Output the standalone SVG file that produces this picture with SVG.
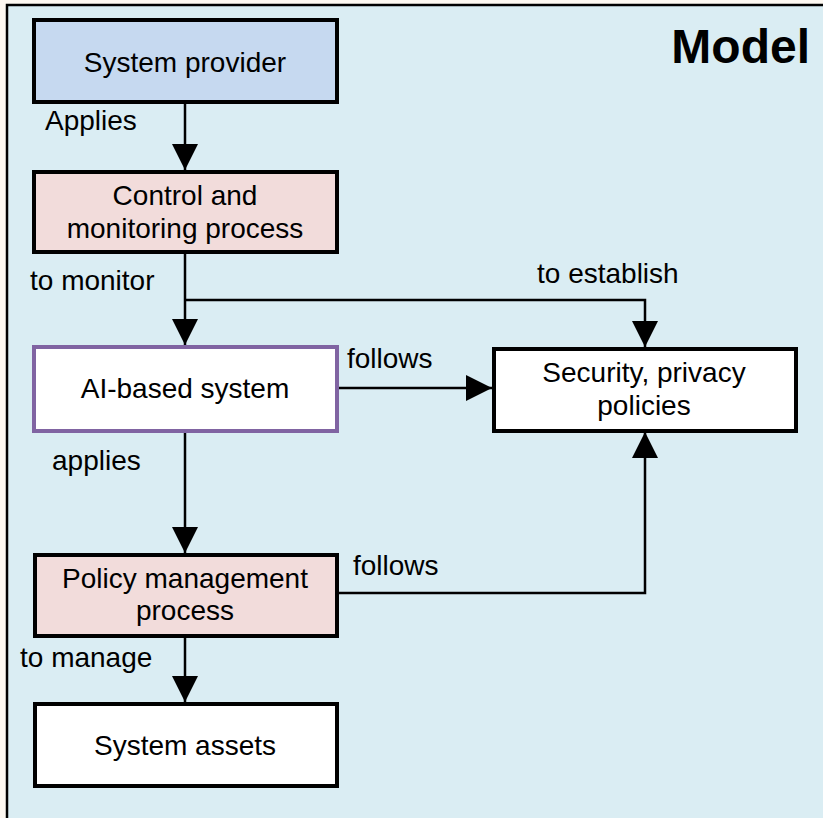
<svg xmlns="http://www.w3.org/2000/svg" width="823" height="818" viewBox="0 0 823 818">
  <style>
    .node { stroke: #000; stroke-width: 4; }
    .lbl { font-family: "Liberation Sans", Arial, sans-serif; font-size: 28px; fill: #000; }
    .mid { text-anchor: middle; }
    .edge { fill: none; stroke: #000; stroke-width: 2.5; }
  </style>
  <defs>
    <marker id="arrow" viewBox="0 0 26 26" refX="26" refY="13" markerWidth="26" markerHeight="26" markerUnits="userSpaceOnUse" orient="auto">
      <path d="M0,0 L26,13 L0,26 z" fill="#000"/>
    </marker>
  </defs>

  <!-- page and model frame -->
  <rect x="0" y="0" width="823" height="818" fill="#fdf8f1"/>
  <rect x="7" y="5" width="840" height="840" fill="#daedf3" stroke="#000" stroke-width="2.5"/>
  <text x="810" y="63" text-anchor="end" style="font-family: 'Liberation Sans', Arial, sans-serif; font-size: 48px; font-weight: bold;">Model</text>

  <!-- connectors -->
  <g id="connectors">
    <line class="edge" x1="185" y1="103" x2="185" y2="170" marker-end="url(#arrow)"/>
    <line class="edge" x1="185" y1="253" x2="185" y2="345" marker-end="url(#arrow)"/>
    <polyline class="edge" points="185,300 645,300 645,347" marker-end="url(#arrow)"/>
    <line class="edge" x1="339" y1="388" x2="492" y2="388" marker-end="url(#arrow)"/>
    <line class="edge" x1="185" y1="433" x2="185" y2="553" marker-end="url(#arrow)"/>
    <polyline class="edge" points="338,593 645,593 645,432" marker-end="url(#arrow)"/>
    <line class="edge" x1="185" y1="637" x2="185" y2="702" marker-end="url(#arrow)"/>
    <text class="lbl" x="45" y="130">Applies</text>
    <text class="lbl" x="30" y="290">to monitor</text>
    <text class="lbl" x="537" y="283">to establish</text>
    <text class="lbl" x="347" y="368">follows</text>
    <text class="lbl" x="52" y="470">applies</text>
    <text class="lbl" x="353" y="575">follows</text>
    <text class="lbl" x="20" y="667">to manage</text>
  </g>

  <g id="system-provider">
    <rect class="node" x="34" y="20" width="303" height="82" fill="#c6d9f0"/>
    <text class="lbl mid" x="185" y="72">System provider</text>
  </g>

  <g id="control-monitoring">
    <rect class="node" x="34" y="172" width="303" height="80" fill="#f2dcdb"/>
    <text class="lbl mid" x="185" y="205">Control and</text>
    <text class="lbl mid" x="185" y="238">monitoring process</text>
  </g>

  <g id="ai-system">
    <rect x="34" y="347" width="303" height="84" fill="#ffffff" stroke="#8064a2" stroke-width="4"/>
    <text class="lbl mid" x="185" y="398">AI-based system</text>
  </g>

  <g id="security-policies">
    <rect class="node" x="494" y="349" width="302" height="82" fill="#ffffff"/>
    <text class="lbl mid" x="644" y="382">Security, privacy</text>
    <text class="lbl mid" x="644" y="415">policies</text>
  </g>

  <g id="policy-management">
    <rect class="node" x="35" y="555" width="302" height="81" fill="#f2dcdb"/>
    <text class="lbl mid" x="185" y="588">Policy management</text>
    <text class="lbl mid" x="185" y="620">process</text>
  </g>

  <g id="system-assets">
    <rect class="node" x="35" y="704" width="302" height="82" fill="#ffffff"/>
    <text class="lbl mid" x="185" y="755">System assets</text>
  </g>
</svg>
